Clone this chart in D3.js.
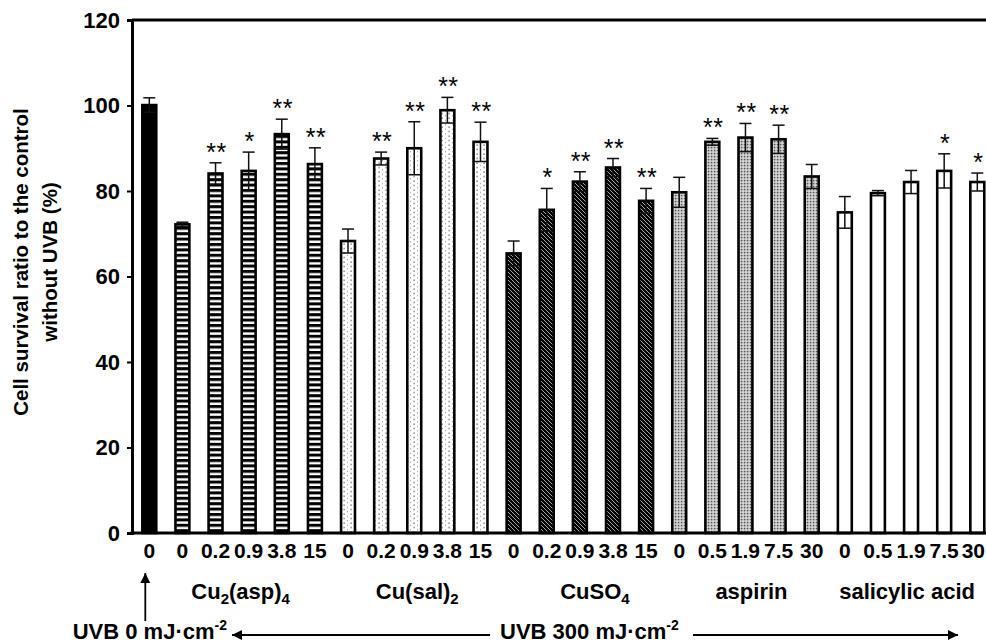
<!DOCTYPE html>
<html>
<head>
<meta charset="utf-8">
<script src="https://cdn.jsdelivr.net/npm/d3@7"></script>
<style>
  body { margin: 0; background: #fff; }
  svg { display: block; font-family: "Liberation Sans", Arial, sans-serif; }
</style>
</head>
<body>
<div id="chart"></div>
<script>
// ---- data ----
const doseLabels = ["0",
  "0", "0.2", "0.9", "3.8", "15",
  "0", "0.2", "0.9", "3.8", "15",
  "0", "0.2", "0.9", "3.8", "15",
  "0", "0.5", "1.9", "7.5", "30",
  "0", "0.5", "1.9", "7.5", "30"];
// which group each bar belongs to
const barGroup = [0, 1, 1, 1, 1, 1, 2, 2, 2, 2, 2, 3, 3, 3, 3, 3, 4, 4, 4, 4, 4, 5, 5, 5, 5, 5];
// cell survival (%) and error
const survival = [100.1,
  72.2, 84.1, 84.7, 93.3, 86.3,
  68.3, 87.6, 90.0, 98.9, 91.5,
  65.4, 75.6, 82.2, 85.5, 77.7,
  79.7, 91.5, 92.5, 92.1, 83.4,
  75.0, 79.5, 82.1, 84.7, 82.1];
const errors = [1.7,
  0.5, 2.5, 4.4, 3.5, 3.8,
  2.8, 1.5, 6.2, 3.0, 4.6,
  2.9, 5.0, 2.3, 2.1, 2.9,
  3.5, 0.8, 3.3, 3.3, 2.8,
  3.7, 0.6, 2.7, 4.0, 2.1];
const signif = ["",
  "", "**", "*", "**", "**",
  "", "**", "**", "**", "**",
  "", "*", "**", "**", "**",
  "", "**", "**", "**", "",
  "", "", "", "*", "*"];
// group names, written as [text, isSubscript] pieces
const groupNames = [
  null,
  [["Cu", 0], ["2", 1], ["(asp)", 0], ["4", 1]],
  [["Cu(sal)", 0], ["2", 1]],
  [["CuSO", 0], ["4", 1]],
  [["aspirin", 0]],
  [["salicylic acid", 0]]
];
const yTicks = [0, 20, 40, 60, 80, 100, 120];

// ---- layout ----
const W = 986, H = 644;
const yTop = 20, yBottom = 533, axisX = 132;
const step = 33.12, firstCenter = 149.3;
const labelNudge = [0, -8, 3, 15, 6, -4];
const font = '"Liberation Sans", Arial, sans-serif';

const svg = d3.select("#chart").append("svg")
  .attr("width", W).attr("height", H);

const defs = svg.append("defs");

// horizontal stripes
const pStripe = defs.append("pattern").attr("id", "stripes")
  .attr("patternUnits", "userSpaceOnUse").attr("width", 6).attr("height", 5.4);
pStripe.append("rect").attr("width", 6).attr("height", 5.4).attr("fill", "#fff");
pStripe.append("rect").attr("width", 6).attr("height", 3).attr("fill", "#000");

// sparse dots
const pDots = defs.append("pattern").attr("id", "dots")
  .attr("patternUnits", "userSpaceOnUse").attr("width", 7).attr("height", 4.5);
pDots.append("rect").attr("width", 7).attr("height", 4.5).attr("fill", "#fff");
pDots.append("rect").attr("x", 0.5).attr("y", 0.5).attr("width", 1.2).attr("height", 1.2).attr("fill", "#444");
pDots.append("rect").attr("x", 4).attr("y", 2.8).attr("width", 1).attr("height", 1).attr("fill", "#888");

// dark diagonal hatch
const pHatch = defs.append("pattern").attr("id", "hatch")
  .attr("patternUnits", "userSpaceOnUse").attr("width", 4).attr("height", 4);
pHatch.append("rect").attr("width", 4).attr("height", 4).attr("fill", "#000");
pHatch.append("path").attr("d", "M-1,-1L5,5M-1,3L1,5M3,-1L5,1")
  .attr("stroke", "#bbb").attr("stroke-width", 0.9);

// grey fine texture
const pGrey = defs.append("pattern").attr("id", "grey")
  .attr("patternUnits", "userSpaceOnUse").attr("width", 3).attr("height", 3);
pGrey.append("rect").attr("width", 3).attr("height", 3).attr("fill", "#b8b8b8");
pGrey.append("rect").attr("width", 1.2).attr("height", 1.2).attr("fill", "#555");
pGrey.append("rect").attr("x", 1.5).attr("y", 1.5).attr("width", 1.2).attr("height", 1.2).attr("fill", "#fff");

const groupFill = ["#000", "url(#stripes)", "url(#dots)", "url(#hatch)", "url(#grey)", "#fff"];

// scales
const keys = doseLabels.map((d, i) => "b" + i);
const x = d3.scaleBand()
  .domain(keys)
  .range([firstCenter - step / 2, firstCenter + step * (keys.length - 0.5)])
  .paddingInner(0.58)
  .paddingOuter(0.29);
const y = d3.scaleLinear().domain([0, 120]).range([yBottom, yTop]);

// y axis
const yAxis = svg.append("g")
  .attr("transform", `translate(${axisX},0)`)
  .call(d3.axisLeft(y).tickValues(yTicks).tickSize(5).tickPadding(7));
yAxis.select(".domain").attr("stroke-width", 3);
yAxis.selectAll(".tick line").attr("stroke-width", 2);
yAxis.selectAll(".tick text")
  .attr("font-family", font).attr("font-size", 22).attr("font-weight", "bold").attr("fill", "#000");

// top frame line
svg.append("line")
  .attr("x1", axisX).attr("x2", W + 5)
  .attr("y1", y(120)).attr("y2", y(120))
  .attr("stroke", "#000").attr("stroke-width", 3);

// bars
const bars = svg.append("g");
bars.selectAll("rect")
  .data(survival)
  .join("rect")
  .attr("x", (d, i) => x(keys[i]))
  .attr("y", d => y(d))
  .attr("width", x.bandwidth())
  .attr("height", d => y(0) - y(d))
  .attr("fill", (d, i) => groupFill[barGroup[i]])
  .attr("stroke", "#000")
  .attr("stroke-width", 2.6);

// error bars
const capW = 12;
const err = svg.append("g").attr("stroke", "#111").attr("stroke-width", 1.5);
survival.forEach((v, i) => {
  const cx = x(keys[i]) + x.bandwidth() / 2;
  const hi = y(v + errors[i]), lo = y(v - errors[i]);
  err.append("line").attr("x1", cx).attr("x2", cx).attr("y1", hi).attr("y2", lo);
  err.append("line").attr("x1", cx - capW / 2).attr("x2", cx + capW / 2).attr("y1", hi).attr("y2", hi);
  err.append("line").attr("x1", cx - capW / 2).attr("x2", cx + capW / 2).attr("y1", lo).attr("y2", lo);
});

// significance stars
svg.append("g").selectAll("text")
  .data(signif)
  .join("text")
  .attr("x", (d, i) => x(keys[i]) + x.bandwidth() / 2 + 1)
  .attr("y", (d, i) => y(survival[i] + errors[i]) - 2)
  .attr("text-anchor", "middle")
  .attr("font-family", font)
  .attr("font-size", 25)
  .attr("letter-spacing", 0.5)
  .text(d => d);

// x axis line
svg.append("line")
  .attr("x1", axisX - 1.5).attr("x2", W + 5)
  .attr("y1", yBottom).attr("y2", yBottom)
  .attr("stroke", "#000").attr("stroke-width", 3);

// dose tick labels (last one held inside the right edge)
const last = doseLabels.length - 1;
svg.append("g").selectAll("text")
  .data(doseLabels)
  .join("text")
  .attr("x", (d, i) => i === last ? W - 1 : x(keys[i]) + x.bandwidth() / 2)
  .attr("y", 558)
  .attr("text-anchor", (d, i) => i === last ? "end" : "middle")
  .attr("font-family", font)
  .attr("font-size", 21)
  .attr("font-weight", "bold")
  .text(d => d);

// group labels
groupNames.forEach((parts, g) => {
  if (!parts) return;
  const idx = barGroup.map((b, i) => b === g ? i : -1).filter(i => i >= 0);
  const c0 = x(keys[idx[0]]) + x.bandwidth() / 2;
  const c1 = x(keys[idx[idx.length - 1]]) + x.bandwidth() / 2;
  const t = svg.append("text")
    .attr("x", (c0 + c1) / 2 + labelNudge[g])
    .attr("y", 599)
    .attr("text-anchor", "middle")
    .attr("font-family", font)
    .attr("font-size", 22)
    .attr("font-weight", "bold");
  parts.forEach(([s, sub], k) => {
    const prevSub = k > 0 && parts[k - 1][1];
    t.append("tspan")
      .attr("dy", sub ? 5 : (prevSub ? -5 : 0))
      .attr("font-size", sub ? 15 : 22)
      .text(s);
  });
});

// y axis title
const yt = svg.append("text")
  .attr("transform", `translate(28,${262}) rotate(-90)`)
  .attr("text-anchor", "middle")
  .attr("font-family", font)
  .attr("font-size", 20.5)
  .attr("font-weight", "bold");
yt.append("tspan").attr("x", 0).attr("y", 0).text("Cell survival ratio to the control");
yt.append("tspan").attr("x", 0).attr("y", 29).text("without UVB (%)");

// UVB annotations
defs.append("marker").attr("id", "arrow")
  .attr("viewBox", "0 0 10 10").attr("refX", 10).attr("refY", 5)
  .attr("markerWidth", 12).attr("markerHeight", 10)
  .attr("markerUnits", "userSpaceOnUse")
  .attr("orient", "auto-start-reverse")
  .append("path").attr("d", "M0,0L10,5L0,10z").attr("fill", "#000");

const ctrlX = x(keys[0]) + x.bandwidth() / 2 - 4;
svg.append("line")
  .attr("x1", ctrlX).attr("x2", ctrlX)
  .attr("y1", 621).attr("y2", 573)
  .attr("stroke", "#000").attr("stroke-width", 1.8)
  .attr("marker-end", "url(#arrow)");

svg.append("line")
  .attr("x1", 490).attr("x2", 232).attr("y1", 635).attr("y2", 635)
  .attr("stroke", "#000").attr("stroke-width", 1.8)
  .attr("marker-end", "url(#arrow)");
svg.append("line")
  .attr("x1", 693).attr("x2", 958).attr("y1", 635).attr("y2", 635)
  .attr("stroke", "#000").attr("stroke-width", 1.8)
  .attr("marker-end", "url(#arrow)");

function uvbLabel(xPos, anchor, dose) {
  const t = svg.append("text")
    .attr("x", xPos).attr("y", 639)
    .attr("text-anchor", anchor)
    .attr("font-family", font)
    .attr("font-size", 22)
    .attr("font-weight", "bold");
  t.append("tspan").text(`UVB ${dose} mJ·cm`);
  t.append("tspan").attr("dy", -9).attr("font-size", 14).text("-2");
}
uvbLabel(227, "end", 0);
uvbLabel(500, "start", 300);
</script>
</body>
</html>
